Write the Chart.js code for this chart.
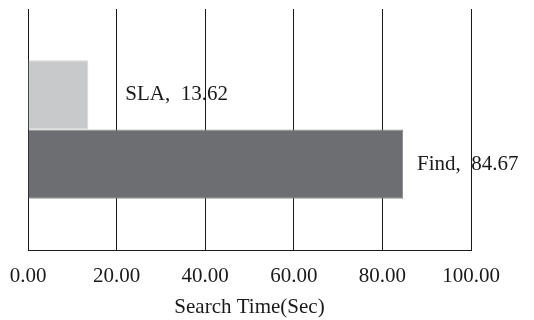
<!DOCTYPE html>
<html><head><meta charset="utf-8">
<script src="https://cdn.jsdelivr.net/npm/chart.js@4.4.0/dist/chart.umd.min.js"></script>
<style>html,body{margin:0;padding:0;background:#fff}#w{width:534px;height:320px}</style>
</head><body><div id="w"><canvas id="c"></canvas></div>
<script>
const categories = [''];
const seriesNames = ['SLA', 'Find'];
const slaValues = [13.62];
const findValues = [84.67];
const xTicks = [0, 20, 40, 60, 80, 100];
const axisTitle = 'Search Time(Sec)';

const FONT = "'Liberation Serif','DejaVu Serif',serif";
const labelGap = [37, 14];

const labelPlugin = {
  id: 'vlabels',
  afterDatasetsDraw(chart) {
    const ctx = chart.ctx;
    ctx.save();
    ctx.font = '21px ' + FONT;
    ctx.fillStyle = '#1a1a1a';
    ctx.textBaseline = 'middle';
    ctx.textAlign = 'left';
    chart.data.datasets.forEach((ds, i) => {
      const meta = chart.getDatasetMeta(i);
      meta.data.forEach((bar, j) => {
        const v = ds.data[j];
        ctx.fillText(ds.label + ',  ' + v.toFixed(2), bar.x + labelGap[i], bar.y);
      });
    });
    ctx.restore();
  }
};

new Chart(document.getElementById('c'), {
  type: 'bar',
  data: {
    labels: categories,
    datasets: [
      { label: seriesNames[0], data: slaValues, backgroundColor: '#c8c9cb', borderColor: '#d6d7d8', borderWidth: 1, categoryPercentage: 0.575, barPercentage: 1 },
      { label: seriesNames[1], data: findValues, backgroundColor: '#6d6e71', borderColor: '#8a8b8d', borderWidth: 1, categoryPercentage: 0.575, barPercentage: 1 }
    ]
  },
  options: {
    indexAxis: 'y',
    responsive: true,
    maintainAspectRatio: false,
    animation: false,
    layout: { padding: { left: 28, right: 63, top: 9, bottom: 0 } },
    plugins: { legend: { display: false }, tooltip: { enabled: false } },
    scales: {
      y: { display: false },
      x: {
        min: 0, max: 100,
        afterBuildTicks: s => { s.ticks = xTicks.map(v => ({ value: v })); },
        afterFit: s => { s.height = 70; s.paddingLeft = 0; s.paddingRight = 0; },
        grid: { color: '#1a1a1a', lineWidth: 1, drawTicks: false },
        border: { display: true, color: '#1a1a1a', width: 1 },
        ticks: { color: '#1a1a1a', padding: 14, font: { family: FONT, size: 21 }, maxRotation: 0, callback: v => Number(v).toFixed(2) },
        title: { display: true, text: axisTitle, color: '#1a1a1a', font: { family: FONT, size: 21 }, padding: { top: 0, bottom: 0 } }
      }
    }
  },
  plugins: [labelPlugin]
});
</script></body></html>
